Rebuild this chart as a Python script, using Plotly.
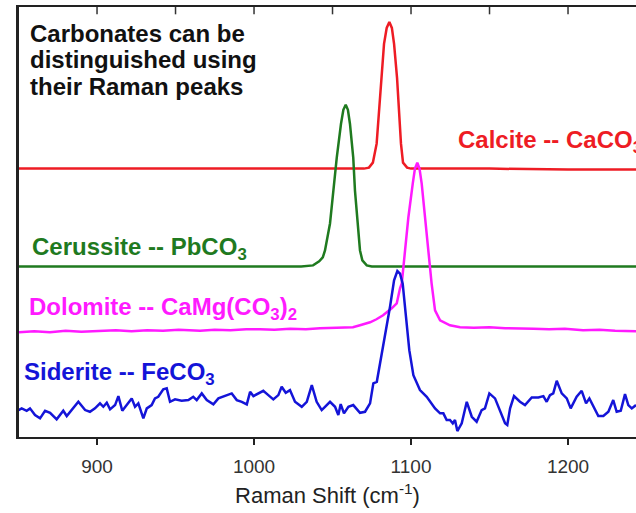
import plotly.graph_objects as go

# ---------------- data (Raman shift in cm^-1, intensity in arbitrary offset units) ----------------
calcite_x = [850, 900, 950, 1000, 1050, 1070, 1073.2, 1075.7, 1078.1, 1079.6, 1080.9, 1082.8, 1084.5,
             1086.2, 1087.8, 1089.2, 1091.1, 1092.4, 1093.6, 1094.9, 1097.5, 1100, 1150, 1200, 1243.3]
calcite_y = [269, 269, 269, 269, 269, 269, 270, 275, 294, 327, 360, 394, 410,
             416, 410, 394, 360, 327, 294, 275, 270, 269, 269, 268, 268]

cerussite_x = [850, 900, 950, 1000, 1030, 1037.6, 1039.5, 1041.5, 1043.8, 1045.2, 1048.4, 1050.5, 1052.7,
               1055.4, 1056.9, 1058.4, 1059.8, 1061.1, 1063.2, 1064.3, 1065.8, 1067.5, 1069, 1071.8,
               1075, 1100, 1150, 1200, 1243.3]
cerussite_y = [171, 171, 171, 171, 171, 172, 174, 176, 180, 187, 214, 247, 280,
               314, 328, 333, 328, 314, 280, 247, 214, 187, 177, 172,
               171, 171, 171, 171, 171]

dolomite_x = [850.3, 860, 870, 880, 890, 901.9, 912, 922, 932, 942, 952, 965.6, 975, 985, 995, 1003.8,
              1013, 1023, 1033, 1042, 1052, 1063, 1067.5, 1073.9, 1078, 1082.2, 1087.7, 1090.9, 1093,
              1094.1, 1096.2, 1098.3, 1101.1, 1102.5, 1104, 1105.4, 1106.8, 1108.9, 1111, 1113.1,
              1115.3, 1118.5, 1124.8, 1131.2, 1140, 1150, 1160, 1166.9, 1178, 1188, 1198, 1209.6,
              1220, 1230, 1243.3]
dolomite_y = [105, 106, 105, 106.5, 105.5, 106, 107, 106, 107, 106.5, 107.5, 106.5, 107.5, 107, 108, 108,
              107.5, 108.5, 108, 109, 109.5, 110, 112, 115, 118, 122, 129, 134, 149,
              154, 187, 220, 254, 269, 275, 269, 254, 220, 187, 154,
              127, 117, 112, 110, 109.5, 110, 109, 109, 108.5, 108, 108.5, 107,
              107.5, 106.5, 106]

siderite_x = [850, 852.0, 855.2, 857.3, 860.5, 863.7, 866.9, 870.1, 874.3, 878.5, 880.7, 883.9, 888.1,
              892.4, 895.5, 898.7, 901.9, 904.0, 906.2, 908.3, 911.5, 913.6, 916.1, 918.9, 922.1,
              924.2, 926.3, 929.5, 931.7, 934.8, 936.9, 939.0, 942.2, 944.4, 946.5, 949.7, 953.9,
              958.2, 961.3, 963.5, 966.7, 969.9, 974.1, 977.3, 981.5, 985.8, 989.0, 992.2, 995.4,
              997.5, 999.6, 1002.7, 1005.9, 1009.1, 1012.3, 1015.5, 1017.6, 1020.2, 1022.9, 1026.1,
              1030.4, 1033.6, 1036.8, 1039.9, 1043.1, 1045.2, 1048.4, 1051.6, 1053.7, 1055.2, 1057.3,
              1060.1, 1063.2, 1067.5, 1070.7, 1073.9, 1076.0, 1078.2, 1080.3, 1083.4, 1086.6, 1089.2,
              1091.3, 1093.0, 1094.7, 1096.8, 1098.9, 1101.5, 1105.7, 1110.0, 1115.3, 1118.5, 1120.6,
              1122.7, 1124.8, 1126.6, 1128.0, 1129.5, 1132.3, 1135.5, 1138.7, 1141.8, 1145.0, 1147.1,
              1149.9, 1153.5, 1156.7, 1159.9, 1161.3, 1163.1, 1165.6, 1169.4, 1172.6, 1176.9, 1181.1,
              1184.3, 1186.4, 1188.5, 1190.6, 1192.8, 1196.0, 1199.2, 1201.7, 1205.5, 1208.7, 1211.5,
              1213.6, 1217.2, 1219.3, 1222.5, 1225.7, 1228.8, 1231.0, 1233.6, 1236.3, 1238.4, 1240.6,
              1243.3]
siderite_y = [27, 28.7, 26.3, 28.7, 22, 18.7, 26.3, 24.3, 17.7, 26.3, 21, 27, 35.3,
              27, 25.3, 28.7, 33.7, 30.3, 34.3, 27.7, 32, 41, 26.3, 32, 38.7,
              30.3, 33.7, 18.7, 28.7, 32, 38.7, 40.3, 47.7, 48.7, 35.3, 37.7, 36.3,
              37, 40.3, 37, 43.7, 37, 32.7, 38.7, 41, 43.7, 37, 35.3, 32.7,
              45.3, 41, 43.7, 46.3, 42, 37.7, 42, 50.3, 44.3, 47, 35.3,
              30.3, 35.3, 52, 35.3, 27, 30.3, 35.3, 30.3, 22, 33, 23.7,
              30.3, 32, 24.3, 25.3, 33.7, 53.7, 55.3, 73.7, 103.7, 130.3, 157,
              166.3, 163.7, 153.7, 120.3, 87, 62, 47, 40.3, 28.7, 23.7, 23.7,
              17, 17, 13.7, 17, 6, 13.7, 35.3, 20.3, 15.3, 27, 28.7,
              43.7, 38.7, 25.3, 13.7, 12, 28.7, 41, 35.3, 32, 39.7, 39.7,
              41, 35.3, 42, 43.7, 56.3, 43.7, 38.7, 28.7, 40.3, 46.3, 33.7,
              38.7, 27, 21, 21, 25.3, 37, 25.3, 26.3, 43, 32, 28.7,
              32]

series = [
    ("Calcite", calcite_x, calcite_y, "#ee1c24"),
    ("Cerussite", cerussite_x, cerussite_y, "#1f7a1f"),
    ("Dolomite", dolomite_x, dolomite_y, "#ff1aff"),
    ("Siderite", siderite_x, siderite_y, "#1414d8"),
]

x_ticks = [900, 1000, 1100, 1200]
top_ticks = [900, 950, 1000, 1050, 1100, 1150, 1200]
x_range = [850.3, 1243.3]
y_range = [0, 431]

# ---------------- figure ----------------
fig = go.Figure()
for name, xs, ys, col in series:
    fig.add_trace(go.Scatter(x=xs, y=ys, mode="lines", name=name,
                             line=dict(color=col, width=2.5), showlegend=False,
                             hoverinfo="skip"))

font_family = "Liberation Sans, Arial, sans-serif"

fig.update_layout(
    width=636, height=513,
    margin=dict(l=19, r=0, t=7, b=76),
    paper_bgcolor="white", plot_bgcolor="white",
    font=dict(family=font_family, color="#222"),
    xaxis=dict(range=x_range, tickvals=x_ticks, ticks="outside", ticklen=6, tickwidth=1.5,
               tickcolor="#222", showline=True, mirror=True, linecolor="#222", linewidth=2,
               showgrid=False, zeroline=False, ticklabelstandoff=5,
               tickfont=dict(size=19, color="#333", family=font_family),
               title=dict(text="Raman Shift (cm<sup>-1</sup>)", standoff=12,
                          font=dict(size=22, color="#222", family=font_family))),
    yaxis=dict(range=y_range, showticklabels=False, ticks="", showline=True,
               linecolor="#222", linewidth=2.5, showgrid=False, zeroline=False),
)

# top frame ticks (inside, every 50 cm^-1)
for t in top_ticks:
    fig.add_shape(type="line", xref="x", yref="paper", x0=t, x1=t, y0=1, y1=0.983,
                  line=dict(color="#333", width=1.5), layer="above")

title_lines = ["Carbonates can be", "distinguished using", "their Raman peaks"]
title_y = [404.5, 378.5, 351.5]
for txt, yy in zip(title_lines, title_y):
    fig.add_annotation(x=856, y=yy, xref="x", yref="y", text="<b>" + txt + "</b>",
                       showarrow=False, xanchor="left", yanchor="middle",
                       font=dict(size=24, color="#111", family=font_family))

labels = [
    ("Calcite -- CaCO<sub>3</sub>", 1128.7, 296, "#ee1c24"),
    ("Cerussite -- PbCO<sub>3</sub>", 857.3, 189, "#1f7a1f"),
    ("Dolomite -- CaMg(CO<sub>3</sub>)<sub>2</sub>", 855.4, 129, "#ff1aff"),
    ("Siderite -- FeCO<sub>3</sub>", 852.2, 64, "#1414d8"),
]
for txt, xx, yy, col in labels:
    fig.add_annotation(x=xx, y=yy, xref="x", yref="y", text="<b>" + txt + "</b>",
                       showarrow=False, xanchor="left", yanchor="middle",
                       font=dict(size=24, color=col, family=font_family))

fig.write_html("out.html")
